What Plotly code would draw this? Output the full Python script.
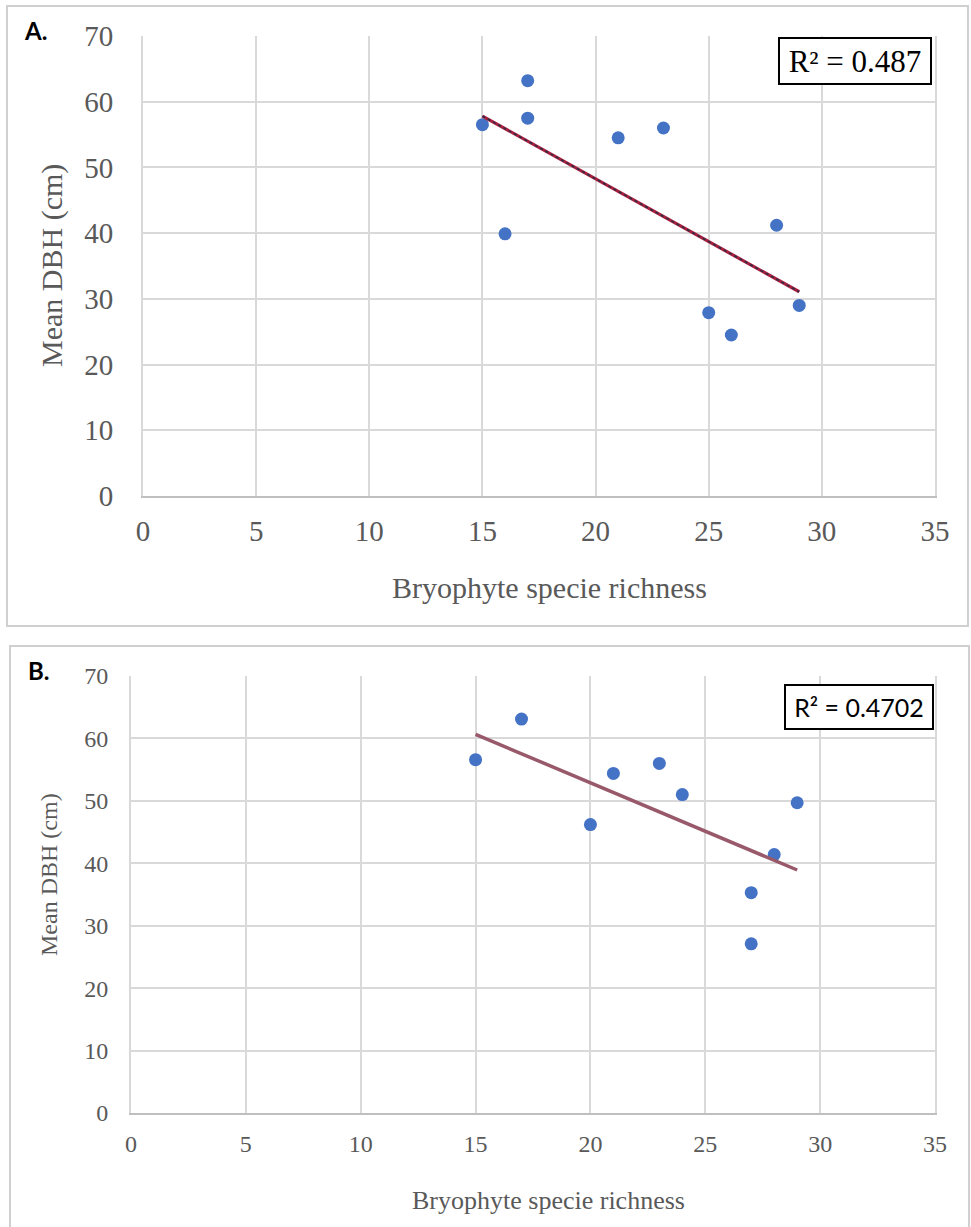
import numpy as np
import plotly.graph_objects as go

W, H = 971, 1227
OFF = 0  # body margin removed by post_script below

# ---- data ----
richness_a = [15, 17, 17, 16, 21, 23, 28, 25, 26, 29]
dbh_a = [56.5, 63.2, 57.5, 39.9, 54.5, 56.0, 41.2, 27.9, 24.5, 29.0]
r2_a_label = "R² = 0.487"

richness_b = [15, 17, 20, 21, 23, 24, 29, 28, 27, 27]
dbh_b = [56.6, 63.1, 46.2, 54.4, 56.0, 51.0, 49.7, 41.4, 35.3, 27.1]
r2_b_label = "R² = 0.4702"

x_ticks = [0, 5, 10, 15, 20, 25, 30, 35]
y_ticks = [0, 10, 20, 30, 40, 50, 60, 70]
x_title = "Bryophyte specie richness"
y_title = "Mean DBH (cm)"


def px_x(p):
    return (p - OFF) / W


def px_y(p):
    return 1 - (p - OFF) / H


def fit_line(x, y):
    m, c = np.polyfit(np.array(x, float), np.array(y, float), 1)
    xs = np.array([min(x), max(x)], float)
    return xs, m * xs + c


BLUE = "#4472C4"
GRID = "#D9D9D9"
GRAY_TXT = "#595959"
SERIF = "Liberation Serif, Times New Roman, serif"
SANS = "Lato, Open Sans, sans-serif"

fig = go.Figure()

# Panel A
fig.add_trace(go.Scatter(x=richness_a, y=dbh_a, mode="markers",
                         marker=dict(color=BLUE, size=13), xaxis="x", yaxis="y",
                         showlegend=False))
xa, ya = fit_line(richness_a, dbh_a)
fig.add_trace(go.Scatter(x=xa, y=ya, mode="lines", line=dict(color="#A8203E", width=3.2),
                         xaxis="x", yaxis="y", showlegend=False))
fig.add_trace(go.Scatter(x=xa, y=ya, mode="lines", line=dict(color="#2E2E48", width=1.6, dash="dot"),
                         xaxis="x", yaxis="y", showlegend=False))

# Panel B
fig.add_trace(go.Scatter(x=richness_b, y=dbh_b, mode="markers",
                         marker=dict(color=BLUE, size=13), xaxis="x2", yaxis="y2",
                         showlegend=False))
xb, yb = fit_line(richness_b, dbh_b)
fig.add_trace(go.Scatter(x=xb, y=yb, mode="lines", line=dict(color="#98596A", width=3.5),
                         xaxis="x2", yaxis="y2", showlegend=False))

common_x = dict(range=[0, 35], tickvals=x_ticks, showgrid=True, gridcolor=GRID, gridwidth=2,
                zeroline=False, showline=True, linecolor="#BFBFBF", linewidth=2, ticks="",
                automargin=False)
common_y = dict(range=[0, 70], tickvals=y_ticks, showgrid=True, gridcolor=GRID, gridwidth=2,
                zeroline=False, showline=True, linecolor=GRID, linewidth=2, mirror=True, ticks="",
                automargin=False)

fig.update_layout(
    template="none",
    width=W, height=H, autosize=False,
    margin=dict(l=0, r=0, t=0, b=0, pad=0, autoexpand=False),
    paper_bgcolor="white", plot_bgcolor="white",
    xaxis=dict(common_x, domain=[px_x(143), px_x(935)], anchor="y",
               tickfont=dict(family=SERIF, size=29, color=GRAY_TXT), ticklabelstandoff=8),
    yaxis=dict(common_y, domain=[px_y(496), px_y(36)], anchor="x",
               tickfont=dict(family=SERIF, size=29, color=GRAY_TXT), ticklabelstandoff=22),
    xaxis2=dict(common_x, domain=[px_x(131), px_x(935)], anchor="y2",
                tickfont=dict(family=SERIF, size=24, color=GRAY_TXT), ticklabelstandoff=8),
    yaxis2=dict(common_y, domain=[px_y(1113), px_y(676)], anchor="x2",
                tickfont=dict(family=SERIF, size=24, color=GRAY_TXT), ticklabelstandoff=16),
)

shapes = [
    dict(type="rect", xref="paper", yref="paper", x0=px_x(7), x1=px_x(968), y0=px_y(626), y1=px_y(6),
         line=dict(color="#D0D0D0", width=2), fillcolor="rgba(0,0,0,0)", layer="below"),
    dict(type="rect", xref="paper", yref="paper", x0=px_x(10), x1=px_x(969), y0=px_y(1240), y1=px_y(646),
         line=dict(color="#D0D0D0", width=2), fillcolor="rgba(0,0,0,0)", layer="below"),
]
fig.update_layout(shapes=shapes)

ann = [
    dict(text="<b>A.</b>", x=px_x(22), y=px_y(31), xanchor="left", yanchor="middle",
         font=dict(family=SANS, size=24, color="black")),
    dict(text="<b>B.</b>", x=px_x(26), y=px_y(670), xanchor="left", yanchor="middle",
         font=dict(family=SANS, size=24, color="black")),
    dict(text=x_title, x=px_x(549), y=px_y(587), xanchor="center", yanchor="middle",
         font=dict(family=SERIF, size=30, color=GRAY_TXT)),
    dict(text=y_title, x=px_x(52), y=px_y(266), xanchor="center", yanchor="middle", textangle=-90,
         font=dict(family=SERIF, size=30, color=GRAY_TXT)),
    dict(text=x_title, x=px_x(548), y=px_y(1200), xanchor="center", yanchor="middle",
         font=dict(family=SERIF, size=26, color=GRAY_TXT)),
    dict(text=y_title, x=px_x(49), y=px_y(875), xanchor="center", yanchor="middle", textangle=-90,
         font=dict(family=SERIF, size=24, color=GRAY_TXT)),
    dict(text=r2_a_label, x=px_x(855), y=px_y(61), xanchor="center", yanchor="middle",
         font=dict(family=SERIF, size=31, color="black"),
         bordercolor="black", borderwidth=2, borderpad=3, bgcolor="white", width=144, height=38),
    dict(text=r2_b_label, x=px_x(859), y=px_y(707), xanchor="center", yanchor="middle",
         font=dict(family=SANS, size=25, color="black"),
         bordercolor="black", borderwidth=2, borderpad=3, bgcolor="white", width=140, height=36),
]
for a in ann:
    a.setdefault("xref", "paper")
    a.setdefault("yref", "paper")
    a.setdefault("showarrow", False)
fig.update_layout(annotations=ann)

fig.write_html("out.html", config={"displayModeBar": False},
               post_script="document.body.style.margin='0';")
